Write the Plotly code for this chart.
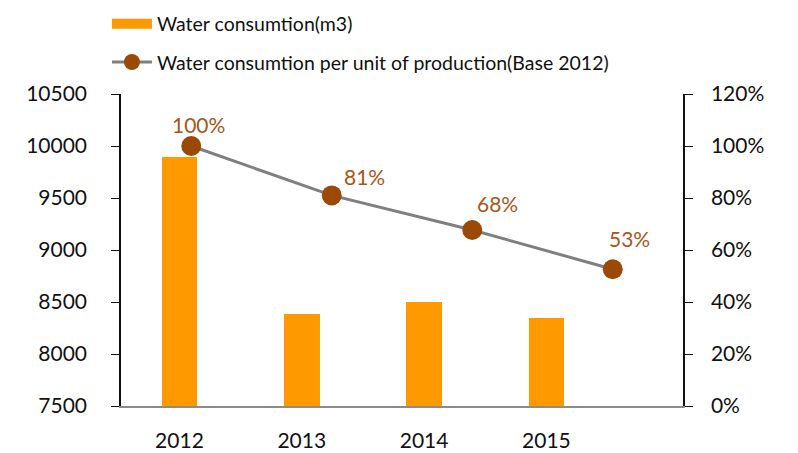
import plotly.graph_objects as go

years = ["2012", "2013", "2014", "2015"]
water_m3 = [9890, 8380, 8500, 8350]
per_unit = [1.00, 0.81, 0.677, 0.526]

bar_name = "Water consumtion(m3)"
line_name = "Water consumtion per unit of production(Base 2012)"

label_dx = [7, 33, 25, 17]
label_dy = [22, 19, 26, 31]

FONT = "Lato"
BAR_C = "#FF9900"
LINE_C = "#7F7F7F"
MARK_C = "#9A4A06"
LABEL_C = "#A8561A"

# page body has an 8px default margin; figure sized to the visible area
W, H = 790, 445
OFF = 8

fig = go.Figure()
fig.add_trace(go.Bar(x=years, y=water_m3, marker=dict(color=BAR_C, line=dict(width=0)),
                     width=0.292, showlegend=False, xaxis="x", yaxis="y"))
# legend entry for bars (wide swatch)
fig.add_trace(go.Scatter(x=[None], y=[None], mode="lines", name=bar_name,
                         line=dict(color=BAR_C, width=15), legendgroup="a",
                         xaxis="x", yaxis="y"))
fig.add_trace(go.Scatter(x=years, y=per_unit, mode="lines+markers", name=line_name,
                         line=dict(color=LINE_C, width=3),
                         marker=dict(color=MARK_C, size=20),
                         legendgroup="b", xaxis="x2", yaxis="y2"))

for i, (v, dx, dy) in enumerate(zip(per_unit, label_dx, label_dy)):
    fig.add_annotation(x=i, y=v, xref="x2", yref="y2", text=f"{round(v*100)}%",
                       showarrow=False, xshift=dx, yshift=dy,
                       font=dict(family=FONT, size=21, color=LABEL_C))

fig.update_layout(
    width=W, height=H,
    margin=dict(l=121 - OFF, r=(W + OFF) - 683, t=93.5 - OFF, b=H - (405.7 - OFF),
                autoexpand=False),
    paper_bgcolor="white", plot_bgcolor="white",
    font=dict(family=FONT, size=21, color="#111111"),
    bargap=0,
    legend=dict(x=-0.025, y=1.287, xanchor="left", yanchor="top",
                font=dict(family=FONT, size=19.5, color="#111111"),
                tracegroupgap=10, traceorder="grouped", itemwidth=40,
                bgcolor="rgba(0,0,0,0)"),
    xaxis=dict(type="category", range=[-0.478, 4.117], showgrid=False,
               showline=True, linecolor="#8C8C8C", linewidth=1.5,
               ticks="", ticklabelstandoff=15, zeroline=False,
               tickfont=dict(family=FONT, size=21, color="#111111")),
    xaxis2=dict(type="category", range=[-0.5, 3.5], overlaying="x",
                anchor="y2", showticklabels=False, showline=False,
                showgrid=False, zeroline=False, ticks=""),
    yaxis=dict(range=[7500, 10500], dtick=500, tickformat="d",
               showgrid=False, zeroline=False,
               showline=True, linecolor="#111111", linewidth=1.5,
               ticks="outside", ticklen=8, tickcolor="#111111",
               ticklabelstandoff=20,
               tickfont=dict(family=FONT, size=21, color="#111111")),
    yaxis2=dict(range=[0, 1.2], dtick=0.2, tickformat=".0%", overlaying="y",
                side="right", anchor="x", showgrid=False, zeroline=False,
                showline=True, linecolor="#111111", linewidth=1.5,
                ticks="outside", ticklen=8, tickcolor="#111111",
                ticklabelstandoff=14,
                tickfont=dict(family=FONT, size=21, color="#111111")),
)

fig.write_html("out.html")
